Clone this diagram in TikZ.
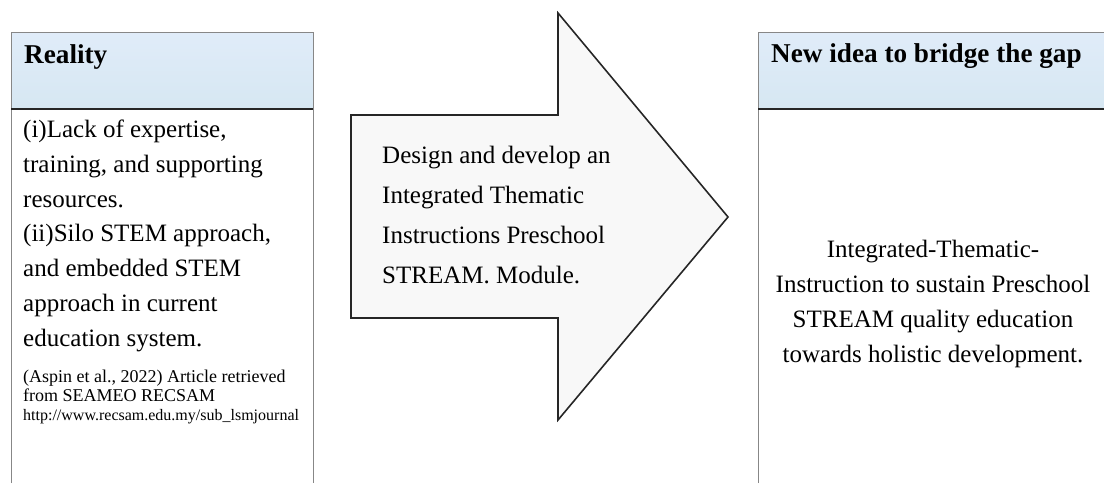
\documentclass[tikz,border=0pt]{standalone}
\usepackage{fontspec}
\setmainfont{Liberation Serif}
\definecolor{hdrtop}{RGB}{224,236,249}
\definecolor{hdrbot}{RGB}{214,231,242}
\definecolor{boxline}{RGB}{135,135,135}
\definecolor{arrowfill}{RGB}{248,248,248}
\begin{document}
\begin{tikzpicture}[x=1pt,y=-1pt,
  frame/.style={draw=boxline, line width=1pt},
  hdrline/.style={draw=black!85, line width=1.2pt},
  hdrfill/.style={top color=hdrtop, bottom color=hdrbot, draw=none},
  hdrtext/.style={anchor=base west, inner sep=0pt, font=\fontsize{27.2}{30}\selectfont\bfseries},
  bodytext/.style={inner sep=0pt, font=\fontsize{25}{34.7}\selectfont},
  bigarrow/.style={draw=black!85, line width=1.6pt, fill=arrowfill, line join=miter}]
\useasboundingbox (0,0) rectangle (1104,483);
% left box
\path[hdrfill] (11,32) rectangle (313,109);
\draw[frame] (11,483) -- (11,32) -- (313,32) -- (313,483);
\draw[hdrline] (11,109) -- (313,109);
\node[hdrtext] (realityhdr) at (24,63) {Reality};
\node[bodytext, anchor=base west, align=left] (realitybody) at (23,346)
  {(i)Lack of expertise,\\training, and supporting\\resources.\\(ii)Silo STEM approach,\\and embedded STEM\\approach in current\\education system.};
\node[anchor=base west, inner sep=0pt, align=left, font=\fontsize{18}{18.5}\selectfont] (refA) at (23,401)
  {(Aspin et al., 2022) Article retrieved\\from SEAMEO RECSAM};
\node[anchor=base west, inner sep=0pt, font=\fontsize{16}{19}\selectfont] (refB) at (23,420)
  {http://www.recsam.edu.my/sub\_lsmjournal};
% arrow
\draw[bigarrow] (351,115) -- (558,115) -- (558,13) -- (728,217) -- (558,420) -- (558,318) -- (351,318) -- cycle;
\node[bodytext, anchor=base west, align=left, font=\fontsize{25}{40}\selectfont] (arrowtext) at (382,283)
  {Design and develop an\\Integrated Thematic\\Instructions Preschool\\STREAM. Module.};
% right box
\path[hdrfill] (758,32) rectangle (1104,109);
\draw[frame] (758,483) -- (758,32) -- (1104,32);
\draw[hdrline] (758,109) -- (1104,109);
\node[hdrtext] (ideahdr) at (771,62) {New idea to bridge the gap};
\node[bodytext, anchor=base, align=center, font=\fontsize{25}{35}\selectfont] (ideabody) at (933,362)
  {Integrated-Thematic-\\Instruction to sustain Preschool\\STREAM quality education\\towards holistic development.};
\end{tikzpicture}
\end{document}
